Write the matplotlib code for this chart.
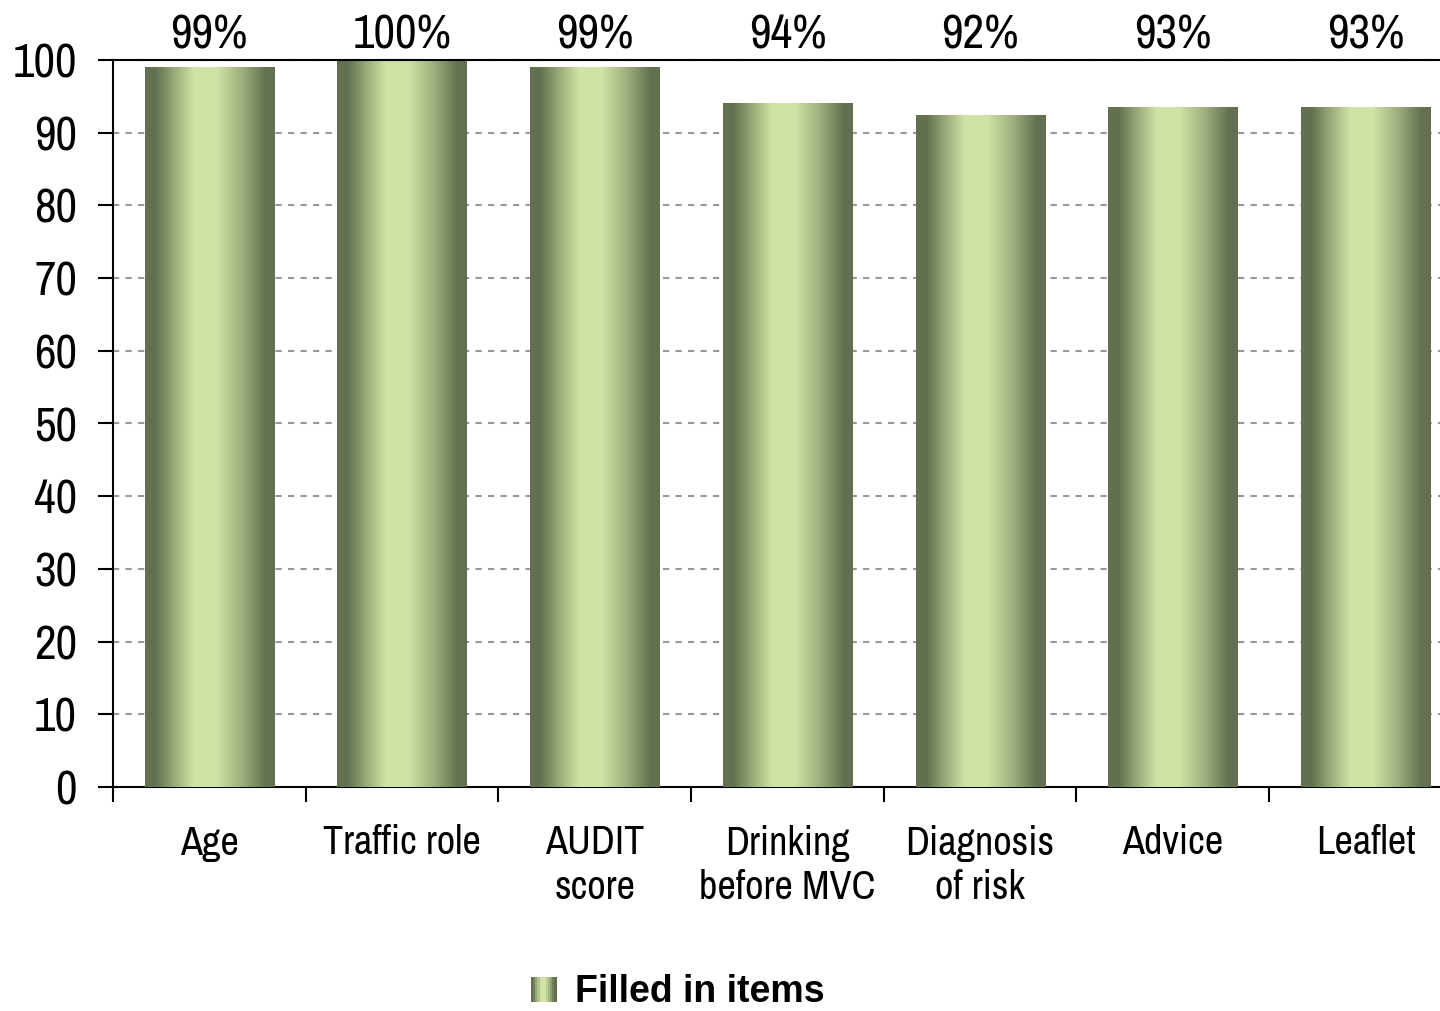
import matplotlib
matplotlib.use("Agg")
import matplotlib.pyplot as plt
import numpy as np
from matplotlib.colors import LinearSegmentedColormap
from matplotlib.patches import Rectangle
from matplotlib.legend_handler import HandlerBase

categories = ["Age", "Traffic role", "AUDIT\nscore", "Drinking\nbefore MVC", "Diagnosis\nof risk", "Advice", "Leaflet"]
values = [99.0, 100.0, 99.0, 94.0, 92.4, 93.5, 93.5]
value_labels = ["99%", "100%", "99%", "94%", "92%", "93%", "93%"]
yticks = [0, 10, 20, 30, 40, 50, 60, 70, 80, 90, 100]
series_name = "Filled in items"

narrow = ["Archivo Narrow", "PT Sans Narrow", "Liberation Sans", "DejaVu Sans"]
plt.rcParams['font.family'] = narrow

dark = (0.39, 0.44, 0.31)
light = (0.82, 0.89, 0.65)
cmap = LinearSegmentedColormap.from_list(
    "bar", [(0.0, dark), (0.08, dark), (0.22, (0.60, 0.66, 0.47)), (0.38, light),
            (0.55, light), (0.75, (0.62, 0.68, 0.49)), (0.93, dark), (1.0, dark)])

fig = plt.figure(figsize=(14.40, 10.11), dpi=100)
slot = 192.7
ax = fig.add_axes([113/1440, 224/1011, 7*slot/1440, 727/1011])
n = len(categories)
x = np.arange(n)
width = 0.67

grad = np.linspace(0, 1, 256).reshape(1, -1)
bars = ax.bar(x, values, width=width, color='none', edgecolor='none', zorder=3)
for b in bars:
    x0, y0 = b.get_x(), b.get_y()
    w, h = b.get_width(), b.get_height()
    ax.imshow(grad, cmap=cmap, aspect='auto', extent=(x0, x0 + w, y0, y0 + h),
              zorder=3, interpolation='bilinear')

ax.set_xlim(-0.5, n - 0.5)
ax.set_ylim(0, 100)

for yv in yticks[1:]:
    ax.axhline(yv, color='#999999', linestyle=(0, (3, 3)), linewidth=1.5, zorder=1)

for xi, lab in zip(x, value_labels):
    ax.text(xi, 1.034, lab, transform=ax.get_xaxis_transform(), ha='center', va='center',
            fontsize=34, color='black')

ax.set_yticks(yticks)
ax.set_yticklabels([str(v) for v in yticks], fontsize=34)
ax.set_xticks(x)
ax.set_xticklabels(categories, fontsize=29, linespacing=1.25)
ax.tick_params(axis='x', length=0, pad=27)
ax.set_xticks(np.arange(n + 1) - 0.5, minor=True)
ax.tick_params(axis='x', which='minor', length=11, width=1.5, direction='out')
ax.tick_params(axis='y', length=11, width=1.5, direction='out', pad=15)

for s in ['left', 'bottom', 'top']:
    ax.spines[s].set_linewidth(1.5)
    ax.spines[s].set_color('black')
ax.spines['right'].set_visible(False)
ax.spines['top'].set_zorder(5)


class GradHandler(HandlerBase):
    def create_artists(self, legend, orig_handle, xdescent, ydescent, width, height, fontsize, trans):
        arts = []
        side = height * 0.95
        x0 = xdescent + width - side
        k = 12
        for i in range(k):
            c = cmap((i + 0.5) / k)
            r = Rectangle((x0 + side * i / k, -ydescent), side / k + 0.3, side,
                          facecolor=c, edgecolor='none', transform=trans)
            arts.append(r)
        return arts


proxy = Rectangle((0, 0), 1, 1)
fig.legend([proxy], [series_name], handler_map={Rectangle: GradHandler()},
           loc='center', bbox_to_anchor=(0.469, 0.019), frameon=False,
           prop={'family': ['Liberation Sans', 'DejaVu Sans'], 'weight': 'bold', 'size': 27},
           handlelength=0.8, handletextpad=0.5, borderpad=0.1)

fig.savefig("out.png", dpi=100)
